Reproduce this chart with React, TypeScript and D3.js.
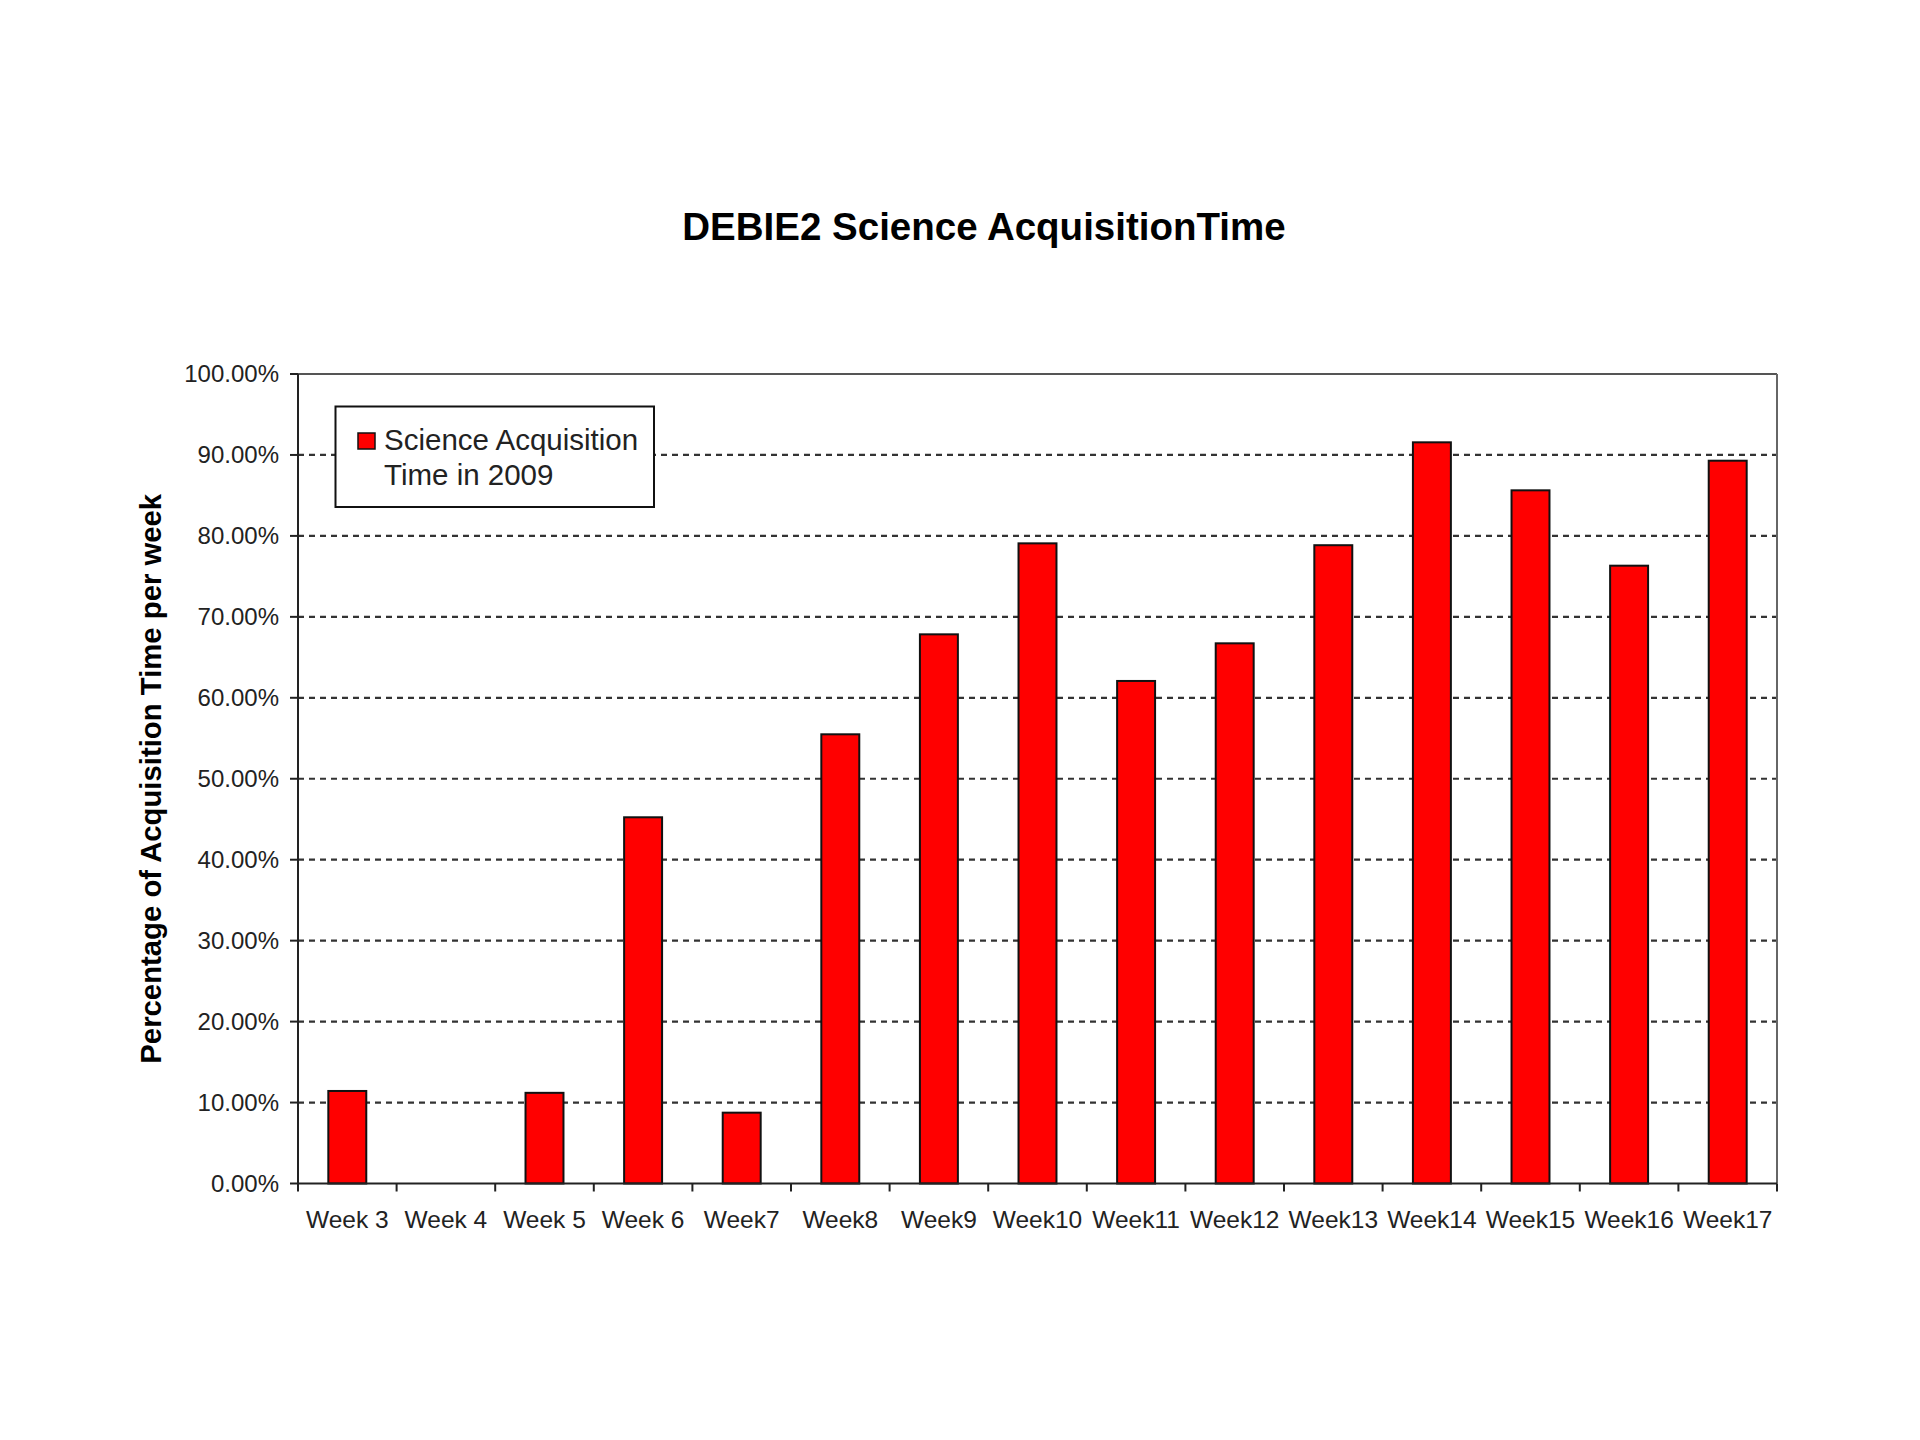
import React from "react";
import * as d3 from "d3";

const categories = ["Week 3", "Week 4", "Week 5", "Week 6", "Week7", "Week8", "Week9", "Week10", "Week11", "Week12", "Week13", "Week14", "Week15", "Week16", "Week17"];
const values = [11.43, 0, 11.2, 45.24, 8.75, 55.49, 67.84, 79.08, 62.08, 66.73, 78.85, 91.56, 85.63, 76.32, 89.29];
const yTicks = [0, 10, 20, 30, 40, 50, 60, 70, 80, 90, 100];
const gridTicks = [10, 20, 30, 40, 50, 60, 70, 80, 90];
const title = "DEBIE2 Science AcquisitionTime";
const yTitle = "Percentage of Acquisition Time per week";
const legendLines = ["Science Acquisition", "Time in 2009"];

const FONT = "'Liberation Sans', Arial, sans-serif";

export default function App() {
  const left = 298, right = 1777, top = 374, bottom = 1183.5;
  const x = d3.scaleBand<string>().domain(categories).range([left, right]).padding(0);
  const y = d3.scaleLinear().domain([0, 100]).range([bottom, top]);
  const step = x.step();
  const barW = step * 0.385;
  const boundaries = categories.map((_, i) => left + i * step).concat([right]);

  return (
    <svg width={1920} height={1440} style={{ position: "absolute", left: 0, top: 0, background: "#fff" }}>
      <rect x={0} y={0} width={1920} height={1440} fill="#fff" />
      <text x={984} y={240} textAnchor="middle" fontFamily={FONT} fontWeight="bold" fontSize={38.5} fill="#000">{title}</text>

      {/* gridlines */}
      {gridTicks.map((t) => (
        <line key={"g" + t} x1={left} x2={right} y1={y(t)} y2={y(t)} stroke="#333" strokeWidth={2.2} strokeDasharray="6 5" />
      ))}

      {/* plot border top/right */}
      <line x1={left} x2={right} y1={top} y2={top} stroke="#555" strokeWidth={2} />
      <line x1={right} x2={right} y1={top} y2={bottom} stroke="#666" strokeWidth={2} />

      {/* bars */}
      {categories.map((c, i) =>
        values[i] > 0 ? (
          <rect key={"b" + c} x={(x(c) as number) + step / 2 - barW / 2} y={y(values[i])} width={barW} height={bottom - y(values[i])} fill="#FF0000" stroke="#111" strokeWidth={2} />
        ) : null
      )}

      {/* axes */}
      <line x1={left} x2={left} y1={top} y2={bottom} stroke="#222" strokeWidth={2} />
      <line x1={left} x2={right} y1={bottom} y2={bottom} stroke="#222" strokeWidth={2} />
      {yTicks.map((t) => (
        <g key={"y" + t}>
          <line x1={left - 8} x2={left} y1={y(t)} y2={y(t)} stroke="#222" strokeWidth={2} />
          <text x={279} y={y(t)} dy="0.35em" textAnchor="end" fontFamily={FONT} fontSize={24} fill="#222">{t.toFixed(2) + "%"}</text>
        </g>
      ))}
      {boundaries.map((b, i) => (
        <line key={"xt" + i} x1={b} x2={b} y1={bottom} y2={bottom + 8} stroke="#222" strokeWidth={2} />
      ))}
      {categories.map((c) => (
        <text key={"xl" + c} x={(x(c) as number) + step / 2} y={1228} textAnchor="middle" fontFamily={FONT} fontSize={24.5} fill="#222">{c}</text>
      ))}

      <text transform={`translate(161, ${(top + bottom) / 2}) rotate(-90)`} textAnchor="middle" fontFamily={FONT} fontWeight="bold" fontSize={29.3} fill="#000">{yTitle}</text>

      {/* legend */}
      <rect x={335.5} y={406.5} width={318.5} height={100.5} fill="#fff" stroke="#111" strokeWidth={2} />
      <rect x={358} y={433} width={17} height={16} fill="#FF0000" stroke="#111" strokeWidth={1.5} />
      <text x={384} y={450} fontFamily={FONT} fontSize={29.5} fill="#222">{legendLines[0]}</text>
      <text x={384} y={485} fontFamily={FONT} fontSize={29.5} fill="#222">{legendLines[1]}</text>
    </svg>
  );
}
